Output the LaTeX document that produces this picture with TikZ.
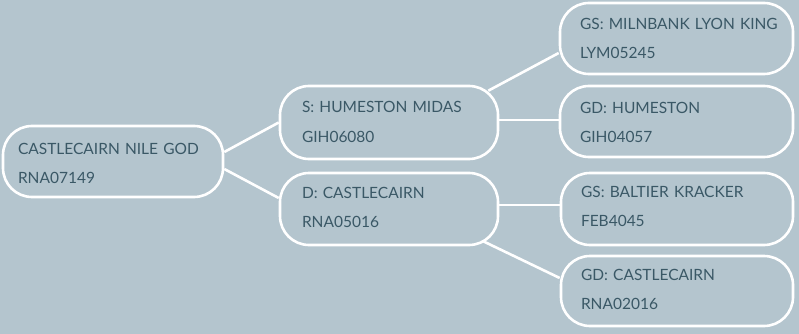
\documentclass[tikz,border=0pt]{standalone}
\usepackage{fontspec}
\setmainfont{Lato}
\usetikzlibrary{backgrounds}
\definecolor{bgc}{RGB}{180,197,206}
\definecolor{txc}{RGB}{58,88,102}
\tikzset{
  pedbox/.style={draw=white, line width=2.6pt, rounded corners=29pt, fill=bgc,
    text=txc, align=left, font=\fontsize{15.5}{29}\selectfont,
    inner ysep=0pt, text depth=29pt},
  link/.style={draw=white, line width=2.6pt}
}
\begin{document}
\begin{tikzpicture}[x=1pt,y=-1pt]
\useasboundingbox (0,0) rectangle (799,334);
\node[pedbox, minimum width=220pt, minimum height=71pt, inner xsep=15pt, text width=190pt, text height=14pt] (root) at (113,161.5) {CASTLECAIRN~NILE~GOD\\RNA07149};
\node[pedbox, minimum width=218pt, minimum height=73pt, inner xsep=22pt, text width=174pt, text height=10pt] (S) at (389,122.5) {S:~HUMESTON~MIDAS\\GIH06080};
\node[pedbox, minimum width=218pt, minimum height=72pt, inner xsep=22pt, text width=174pt, text height=7.6pt] (D) at (389,209) {D:~CASTLECAIRN\\RNA05016};
\node[pedbox, minimum width=233pt, minimum height=71pt, inner xsep=20pt, text width=193pt, text height=12pt] (GS1) at (676.5,38.5) {GS:~MILNBANK~LYON~KING\\LYM05245};
\node[pedbox, minimum width=233pt, minimum height=71pt, inner xsep=20pt, text width=193pt, text height=12.6pt] (GD1) at (676.5,121.5) {GD:~HUMESTON\\GIH04057};
\node[pedbox, minimum width=232pt, minimum height=72pt, inner xsep=20pt, text width=192pt, text height=5pt] (GS2) at (677,209) {GS:~BALTIER~KRACKER\\FEB4045};
\node[pedbox, minimum width=232pt, minimum height=70pt, inner xsep=20pt, text width=192pt, text height=7pt] (GD2) at (677,291) {GD:~CASTLECAIRN\\RNA02016};
\begin{scope}[on background layer]
\fill[bgc] (0,0) rectangle (799,334);
\draw[link] ([yshift=9.5pt]root.east) -- (S.west);
\draw[link] ([yshift=-7.5pt]root.east) -- ([yshift=11pt]D.west);
\draw[link] ([xshift=-11pt,yshift=-6pt]S.north east) -- ([yshift=-14.5pt]GS1.west);
\draw[link] ([yshift=2.5pt]S.east) -- ([yshift=1.5pt]GD1.west);
\draw[link] ([yshift=4pt]D.east) -- ([yshift=4pt]GS2.west);
\draw[link] ([xshift=-16pt,yshift=5pt]D.south east) -- ([yshift=13pt]GD2.west);
\end{scope}
\end{tikzpicture}
\end{document}
